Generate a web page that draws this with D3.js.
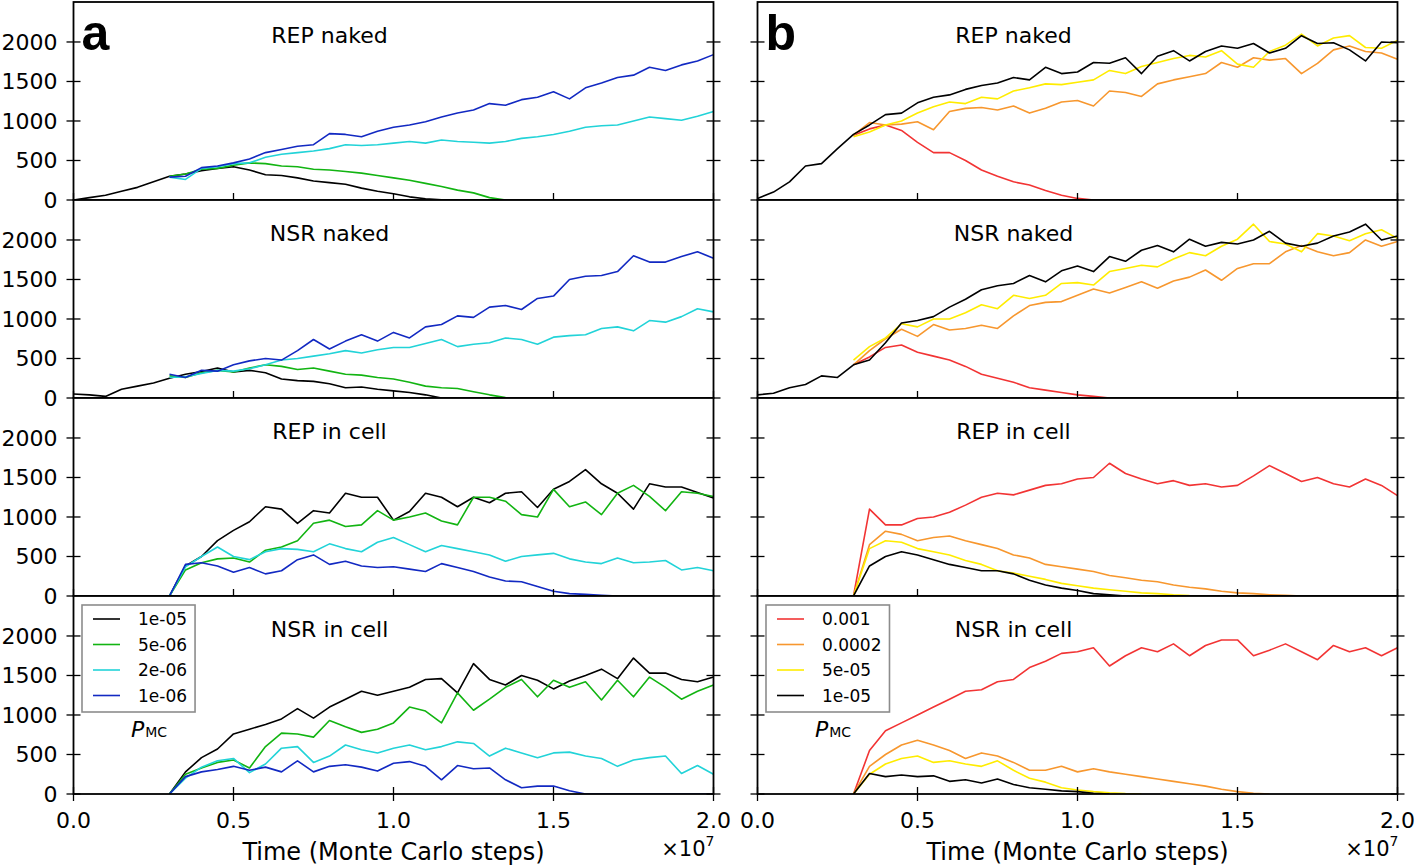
<!DOCTYPE html>
<html>
<head>
<meta charset="utf-8">
<script src="https://cdn.jsdelivr.net/npm/d3@7"></script>
<style>
  body { margin: 0; background: #fff; }
  text { font-family: "DejaVu Sans", sans-serif; fill: #000; }
</style>
</head>
<body>
<div id="chart"></div>
<script>
const N = null;

// time grid (x 1e7 Monte Carlo steps)
const times = [0, 0.05, 0.1, 0.15, 0.2, 0.25, 0.3, 0.35, 0.4, 0.45, 0.5, 0.55, 0.6, 0.65, 0.7,
  0.75, 0.8, 0.85, 0.9, 0.95, 1.0, 1.05, 1.1, 1.15, 1.2, 1.25, 1.3, 1.35, 1.4, 1.45, 1.5,
  1.55, 1.6, 1.65, 1.7, 1.75, 1.8, 1.85, 1.9, 1.95, 2.0];

const xTicks = [0, 0.5, 1.0, 1.5, 2.0];
const yTicks = [0, 500, 1000, 1500, 2000];
const rowTitles = ["REP naked", "NSR naked", "REP in cell", "NSR in cell"];

const labelsA = ["1e-05", "5e-06", "2e-06", "1e-06"];
const colorsA = ["#000000", "#12b412", "#22d3d8", "#1229c2"];
const labelsB = ["0.001", "0.0002", "5e-05", "1e-05"];
const colorsB = ["#f23434", "#f7972e", "#ffec00", "#000000"];

// ---- column a ----
const aRepNakedK = [0,30,60,110,160,230,300,330,370,400,420,380,320,310,280,240,220,200,150,110,80,40,15,3,0,
  N,N,N,N,N,N,N,N,N,N,N,N,N,N,N,N];
const aRepNakedG = [N,N,N,N,N,N,300,330,390,400,440,470,460,430,420,390,380,360,340,310,280,250,210,170,125,90,30,0,
  N,N,N,N,N,N,N,N,N,N,N,N,N];
const aRepNakedC = [N,N,N,N,N,N,290,260,400,420,460,470,540,580,600,620,650,700,690,700,720,740,720,760,740,730,
  720,740,780,800,830,870,920,940,950,1000,1050,1030,1010,1060,1120];
const aRepNakedB = [N,N,N,N,N,N,290,300,410,430,470,520,600,640,680,700,840,830,800,870,920,950,990,1050,1100,1140,
  1220,1200,1270,1300,1370,1280,1420,1480,1550,1580,1680,1640,1710,1760,1840];

const aNsrNakedK = [50,40,20,110,150,190,250,300,335,380,330,350,320,240,220,210,180,130,140,110,90,70,40,0,
  N,N,N,N,N,N,N,N,N,N,N,N,N,N,N,N,N];
const aNsrNakedG = [N,N,N,N,N,N,280,260,320,350,330,380,420,400,360,380,340,300,290,260,240,200,150,130,120,80,40,5,
  N,N,N,N,N,N,N,N,N,N,N,N,N];
const aNsrNakedC = [N,N,N,N,N,N,260,270,310,350,340,370,420,480,500,530,560,600,570,610,640,640,690,740,650,680,
  700,760,740,680,770,790,800,880,900,850,980,960,1030,1130,1090];
const aNsrNakedB = [N,N,N,N,N,N,300,260,350,340,420,470,500,480,600,740,620,720,800,720,830,760,900,930,1040,1020,
  1150,1170,1120,1260,1290,1500,1540,1550,1600,1800,1720,1720,1790,1850,1770];

const aRepCellK = [N,N,N,N,N,N,0,380,500,700,830,940,1130,1100,920,1080,1050,1300,1250,1250,960,1070,1300,1250,1130,
  1250,1180,1300,1320,1120,1350,1450,1600,1420,1300,1100,1420,1380,1380,1310,1240];
const aRepCellG = [N,N,N,N,N,N,0,330,420,470,480,430,580,620,700,920,960,880,900,1080,960,1000,1050,950,900,1250,
  1250,1200,1030,1000,1350,1130,1190,1030,1300,1400,1260,1080,1320,1300,1260];
const aRepCellC = [N,N,N,N,N,N,0,370,500,620,500,460,560,600,590,560,660,600,560,680,740,650,560,640,600,560,
  520,440,500,520,540,470,430,410,480,420,430,450,330,360,320];
const aRepCellB = [N,N,N,N,N,N,0,400,420,380,300,360,280,320,460,520,400,440,380,360,370,340,310,410,360,310,
  240,190,180,120,60,30,20,10,0,N,N,N,N,N,N];

const aNsrCellK = [N,N,N,N,N,N,0,280,460,570,760,820,880,950,1080,960,1100,1200,1300,1250,1300,1350,1450,1460,1280,
  1650,1450,1380,1500,1440,1330,1430,1500,1580,1460,1720,1530,1530,1450,1420,1480];
const aNsrCellG = [N,N,N,N,N,N,0,250,330,400,430,330,600,770,760,720,930,850,780,820,900,1100,1050,900,1280,1060,
  1200,1350,1450,1230,1440,1350,1420,1190,1440,1230,1480,1350,1200,1300,1380];
const aNsrCellC = [N,N,N,N,N,N,0,200,340,420,450,270,380,580,600,400,480,620,560,520,580,620,560,600,660,640,
  480,580,520,460,520,530,480,450,350,430,460,480,260,360,250];
const aNsrCellB = [N,N,N,N,N,N,0,220,280,310,350,300,340,280,420,280,350,370,340,290,390,410,350,180,360,320,
  330,180,80,100,100,40,0,0,0,0,0,0,0,0,0];

// ---- column b ----
const bRepNakedR = [N,N,N,N,N,N,820,900,950,880,730,600,600,500,380,300,230,190,120,60,20,0,
  N,N,N,N,N,N,N,N,N,N,N,N,N,N,N,N,N,N,N];
const bRepNakedO = [N,N,N,N,N,N,820,980,950,960,990,890,1120,1160,1170,1140,1190,1100,1160,1240,1260,1190,1380,1360,
  1310,1470,1520,1560,1600,1740,1680,1800,1770,1790,1600,1730,1900,1950,1880,1860,1780];
const bRepNakedY = [N,N,N,N,N,N,800,860,950,1000,1100,1180,1240,1220,1300,1280,1380,1420,1470,1460,1490,1520,1640,
  1600,1690,1740,1790,1830,1810,1890,1720,1680,1880,1960,2100,1950,2050,2080,1930,1920,2020];
const bRepNakedK = [20,100,230,430,460,650,830,950,1080,1100,1230,1300,1330,1400,1450,1480,1550,1520,1680,1600,1620,
  1740,1730,1800,1600,1820,1890,1760,1880,1950,1920,1980,1860,1920,2080,1980,1990,1900,1760,2000,1990];

const bNsrNakedR = [N,N,N,N,N,N,420,520,640,670,580,530,480,400,300,250,200,130,100,70,40,20,0,
  N,N,N,N,N,N,N,N,N,N,N,N,N,N,N,N,N,N];
const bNsrNakedO = [N,N,N,N,N,N,420,600,750,870,780,930,860,880,920,880,1040,1170,1210,1220,1300,1380,1330,1400,
  1470,1390,1480,1530,1620,1490,1640,1700,1700,1850,1930,1850,1800,1840,2000,1920,1980];
const bNsrNakedY = [N,N,N,N,N,N,480,650,760,940,900,1000,1000,1080,1180,1130,1300,1260,1300,1450,1460,1430,1600,
  1640,1680,1660,1760,1840,1800,1920,2010,2200,1980,1950,1850,2080,2050,1990,2080,2130,2020];
const bNsrNakedK = [40,60,130,170,280,260,420,480,700,950,980,1030,1150,1250,1370,1420,1450,1550,1470,1610,1670,
  1600,1790,1730,1870,1930,1850,2010,1920,1970,1950,2000,2110,1960,1920,1960,2050,2100,2200,2000,2050];

const bRepCellR = [N,N,N,N,N,N,0,1100,900,900,980,1000,1060,1150,1250,1300,1280,1340,1400,1420,1480,1500,1680,1550,
  1480,1420,1460,1400,1420,1380,1400,1520,1650,1550,1450,1500,1420,1380,1480,1400,1270];
const bRepCellO = [N,N,N,N,N,N,0,650,820,780,700,740,760,700,650,600,520,480,400,370,340,310,260,230,200,180,
  140,110,90,60,40,30,15,8,0,N,N,N,N,N,N];
const bRepCellY = [N,N,N,N,N,N,0,600,700,680,600,560,520,450,400,320,290,250,210,160,130,100,80,60,40,30,15,5,0,
  N,N,N,N,N,N,N,N,N,N,N,N];
const bRepCellK = [N,N,N,N,N,N,0,380,500,560,520,460,400,360,320,320,280,200,140,100,70,30,15,0,
  N,N,N,N,N,N,N,N,N,N,N,N,N,N,N,N,N];

const bNsrCellR = [N,N,N,N,N,N,0,550,800,900,1000,1100,1200,1300,1320,1420,1450,1600,1680,1780,1800,1850,1620,1750,
  1850,1800,1900,1750,1880,1950,1950,1750,1820,1900,1800,1700,1880,1800,1850,1750,1850];
const bNsrCellO = [N,N,N,N,N,N,0,350,500,620,680,620,550,450,520,480,400,300,300,350,280,320,280,250,220,190,
  160,130,100,60,30,10,0,N,N,N,N,N,N,N,N];
const bNsrCellY = [N,N,N,N,N,N,0,250,380,450,480,400,420,380,350,420,300,200,150,80,50,30,15,5,0,
  N,N,N,N,N,N,N,N,N,N,N,N,N,N,N,N];
const bNsrCellK = [N,N,N,N,N,N,0,260,220,240,220,230,160,180,140,190,120,80,60,40,30,10,0,
  N,N,N,N,N,N,N,N,N,N,N,N,N,N,N,N,N,N];

const columns = [
  { letter: "a", labels: labelsA, colors: colorsA, rows: [
    [aRepNakedK, aRepNakedG, aRepNakedC, aRepNakedB],
    [aNsrNakedK, aNsrNakedG, aNsrNakedC, aNsrNakedB],
    [aRepCellK, aRepCellG, aRepCellC, aRepCellB],
    [aNsrCellK, aNsrCellG, aNsrCellC, aNsrCellB]] },
  { letter: "b", labels: labelsB, colors: colorsB, rows: [
    [bRepNakedR, bRepNakedO, bRepNakedY, bRepNakedK],
    [bNsrNakedR, bNsrNakedO, bNsrNakedY, bNsrNakedK],
    [bRepCellR, bRepCellO, bRepCellY, bRepCellK],
    [bNsrCellR, bNsrCellO, bNsrCellY, bNsrCellK]] }
];

const W = 1418, H = 868;
const colLeft = [73.5, 757.5], panelW = 640;
const rowBottom = [200, 398, 596, 794], panelH = 198;
const TICK = 7;

let svg = d3.select("#chart").append("svg").attr("width", W).attr("height", H);

function draw_panel(ci, ri)
{
  let col = columns[ci];
  let left = colLeft[ci], bottom = rowBottom[ri], top = bottom - panelH;
  let x = d3.scaleLinear().domain([0, 2.0]).range([left, left + panelW]);
  let y = d3.scaleLinear().domain([0, 2506]).range([bottom, top]);
  let g = svg.append("g");

  g.append("rect").attr("x", left).attr("y", top).attr("width", panelW).attr("height", panelH)
    .attr("fill", "#fff");

  let clipId = "clip" + ci + ri;
  g.append("clipPath").attr("id", clipId).append("rect")
    .attr("x", left).attr("y", top).attr("width", panelW).attr("height", panelH);

  let line = d3.line()
    .defined(d => d != null)
    .x((d, i) => x(times[i]))
    .y(d => y(d));

  col.rows[ri].forEach((vals, si) => {
    g.append("path").datum(vals)
      .attr("clip-path", "url(#" + clipId + ")")
      .attr("fill", "none")
      .attr("stroke", col.colors[si])
      .attr("stroke-width", 1.6)
      .attr("stroke-linejoin", "round")
      .attr("d", line);
  });

  // y ticks, in-out on both sides
  let yt = g.append("g").attr("stroke", "#000").attr("stroke-width", 1.3);
  yTicks.forEach(v => {
    yt.append("line").attr("x1", left - TICK).attr("x2", left + TICK).attr("y1", y(v)).attr("y2", y(v));
    yt.append("line").attr("x1", left + panelW - TICK).attr("x2", left + panelW + TICK).attr("y1", y(v)).attr("y2", y(v));
  });
  // x ticks
  let last = ri == rowBottom.length - 1;
  xTicks.forEach(v => {
    yt.append("line").attr("x1", x(v)).attr("x2", x(v))
      .attr("y1", bottom - TICK).attr("y2", last ? bottom + TICK : bottom);
  });

  if (ci == 0)
  {
    g.selectAll(".ylab").data(yTicks).enter().append("text")
      .attr("x", left - 16).attr("y", d => y(d)).attr("dy", "0.36em")
      .attr("text-anchor", "end").style("font-size", "22px")
      .text(d => d);
  }

  if (last)
  {
    g.selectAll(".xlab").data(xTicks).enter().append("text")
      .attr("x", d => x(d)).attr("y", 828)
      .attr("text-anchor", "middle").style("font-size", "22px")
      .text(d => d.toFixed(1));
  }

  g.append("rect").attr("x", left).attr("y", top).attr("width", panelW).attr("height", panelH)
    .attr("fill", "none").attr("stroke", "#000").attr("stroke-width", 1.8);

  g.append("text").attr("x", x(0.8)).attr("y", top + 40.5)
    .attr("text-anchor", "middle").style("font-size", "22px")
    .text(rowTitles[ri]);

  if (ri == 0)
  {
    g.append("text").attr("x", left + 8).attr("y", 50)
      .style("font-family", "'Liberation Sans', Arial, sans-serif")
      .style("font-weight", "bold").style("font-size", "50px")
      .text(col.letter);
  }

  if (last)
  {
    add_legend(g, col, left);
    g.append("text").attr("x", left + panelW / 2).attr("y", 860)
      .attr("text-anchor", "middle").style("font-size", "24px")
      .text("Time (Monte Carlo steps)");
    let mult = g.append("text").attr("x", left + panelW + 1).attr("y", 856)
      .attr("text-anchor", "end").style("font-size", "21px");
    mult.append("tspan").text("\u00d710");
    mult.append("tspan").attr("dy", -10).style("font-size", "14px").text("7");
  }
}

function add_legend(g, col, left)
{
  let bx = left + 8.5, by = 605;
  let fs = 17;
  let tmp = g.append("text").style("font-size", fs + "px");
  let tw = d3.max(col.labels, l => { tmp.text(l); return tmp.node().getComputedTextLength(); });
  tmp.remove();

  g.append("rect").attr("x", bx).attr("y", by).attr("width", 56 + tw + 8).attr("height", 107)
    .attr("fill", "#fff").attr("stroke", "#8c8c8c").attr("stroke-width", 1.6);

  col.labels.forEach((l, i) => {
    let ly = by + 14 + i * 25.5;
    g.append("line").attr("x1", bx + 11).attr("x2", bx + 38).attr("y1", ly).attr("y2", ly)
      .attr("stroke", col.colors[i]).attr("stroke-width", 1.6);
    g.append("text").attr("x", bx + 56).attr("y", ly + 6).style("font-size", fs + "px").text(l);
  });

  let p = g.append("text").attr("x", bx + 49).attr("y", 737);
  p.append("tspan").style("font-style", "italic").style("font-size", "22px").text("P");
  p.append("tspan").attr("dx", 1).style("font-size", "14px").text("MC");
}

for (let ci = 0; ci < 2; ci++)
  for (let ri = 0; ri < 4; ri++)
    draw_panel(ci, ri);
</script>
</body>
</html>
